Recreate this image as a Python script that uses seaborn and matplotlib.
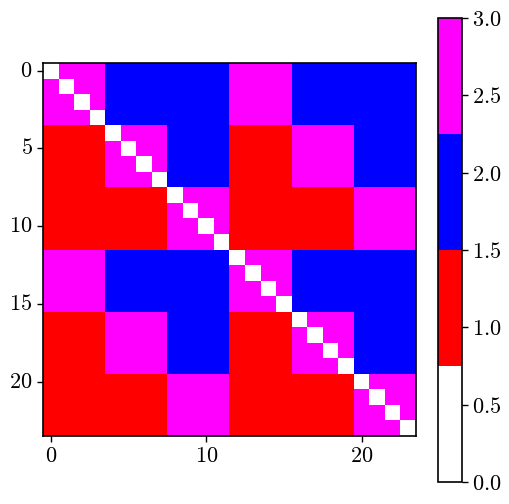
import numpy as np
import matplotlib
matplotlib.use("Agg")
import matplotlib.pyplot as plt
from matplotlib.colors import ListedColormap
from matplotlib.ticker import FuncFormatter
import seaborn as sns

plt.rcParams['mathtext.fontset'] = 'cm'

# Colour codes: 0 = white, 1 = red, 2 = blue, 3 = magenta
colors = ['white', 'red', 'blue', 'magenta']

# 6x6 block pattern (each block 4x4); -1 marks a diagonal block
block_values = [
    [-1, 2, 2, 3, 2, 2],
    [1, -1, 2, 1, 3, 2],
    [1, 1, -1, 1, 1, 3],
    [3, 2, 2, -1, 2, 2],
    [1, 3, 2, 1, -1, 2],
    [1, 1, 3, 1, 1, -1],
]
diag_block = [
    [0, 3, 3, 3],
    [3, 0, 3, 3],
    [3, 3, 0, 3],
    [3, 3, 3, 0],
]
block_size = 4

xtick_vals = [0, 10, 20]
ytick_vals = [0, 5, 10, 15, 20]
cbar_ticks = [0.0, 0.5, 1.0, 1.5, 2.0, 2.5, 3.0]

nb = len(block_values)
n = nb * block_size
M = np.zeros((n, n))
for i in range(nb):
    for j in range(nb):
        v = block_values[i][j]
        sl = (slice(i*block_size, (i+1)*block_size), slice(j*block_size, (j+1)*block_size))
        M[sl] = np.array(diag_block) if v < 0 else v

fig = plt.figure(figsize=(5.1, 5.04), dpi=100)
ax = fig.add_axes([43/510, (504-436)/504, 373/510, 373/504])
cax = fig.add_axes([438/510, (504-482)/504, 24/510, 464/504])

cmap = ListedColormap(colors)
sns.heatmap(M, ax=ax, cbar_ax=cax, cmap=cmap, vmin=0, vmax=3, square=False,
            cbar_kws={'ticks': cbar_ticks})

fs = 16
ax.set_xticks([v + 0.5 for v in xtick_vals])
ax.set_xticklabels([f'${v}$' for v in xtick_vals], rotation=0, fontsize=fs)
ax.set_yticks([v + 0.5 for v in ytick_vals])
ax.set_yticklabels([f'${v}$' for v in ytick_vals], rotation=0, fontsize=fs)
ax.tick_params(length=4, width=1, direction='out')
for s in ax.spines.values():
    s.set_visible(True)
    s.set_color('black')
    s.set_linewidth(1.2)

cb = ax.collections[0].colorbar
cb.outline.set_visible(True)
cb.outline.set_edgecolor('black')
cb.outline.set_linewidth(1.2)
cax.yaxis.set_major_formatter(FuncFormatter(lambda v, p: f'${v:.1f}$'))
cax.tick_params(labelsize=fs, length=4, width=1)

fig.savefig('out.png', dpi=100)
